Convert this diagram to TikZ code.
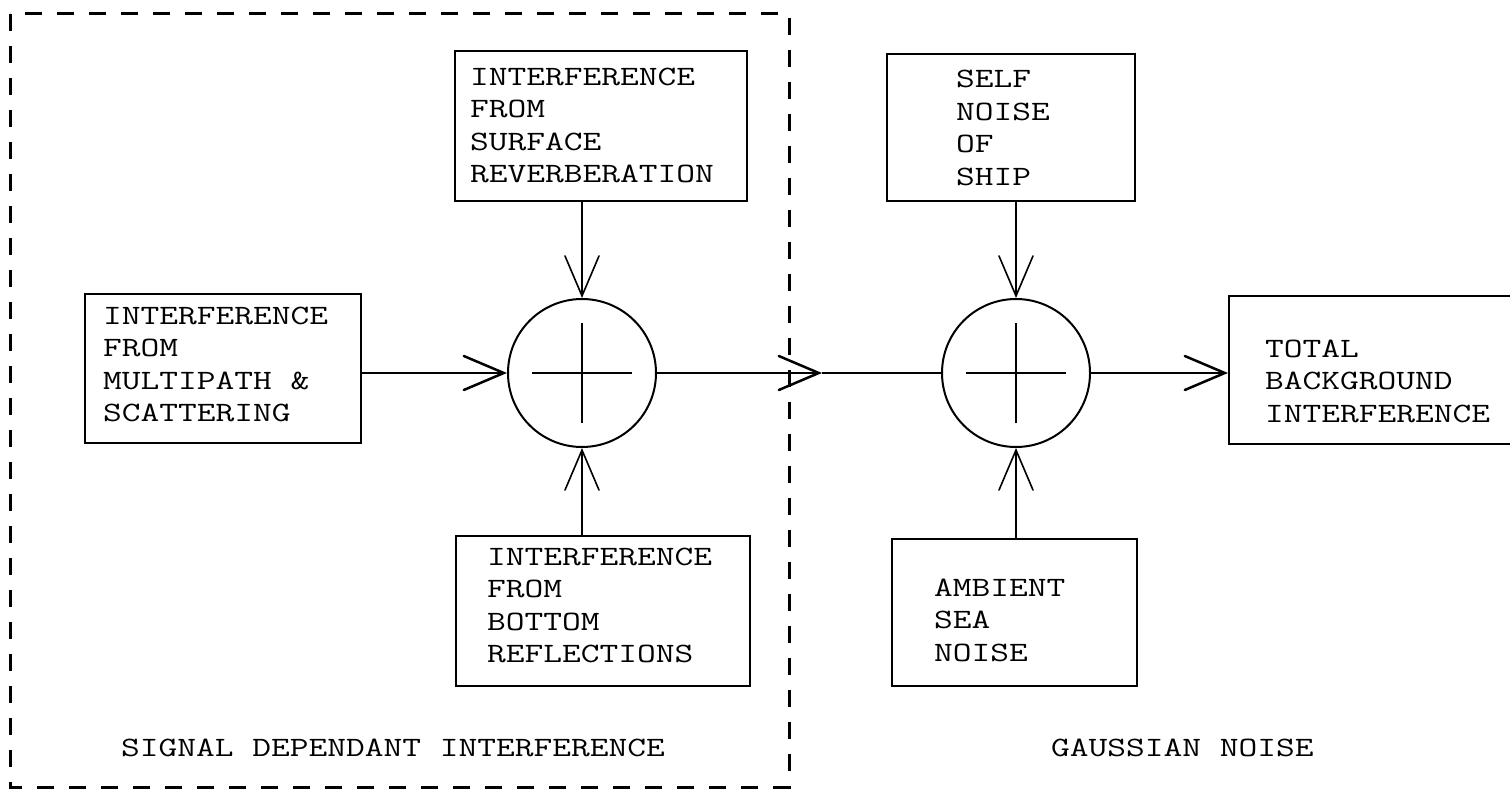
\documentclass[tikz,border=0pt]{standalone}
\usepackage{fontspec}
\setmainfont[FakeStretch=1.3]{Latin Modern Mono}
\usetikzlibrary{arrows.meta}
\newcommand{\lines}[1]{\begin{tabular}[t]{@{}l@{}}#1\end{tabular}}
\begin{document}
\begin{tikzpicture}[x=1pt,y=-1pt,
  box/.style={draw, line width=2.2pt, inner sep=0pt, anchor=north west},
  txt/.style={anchor=base west, inner sep=0pt, font=\fontsize{28}{32.5}\selectfont},
  sum/.style={draw, circle, line width=2pt, minimum size=148pt, inner sep=0pt},
  barb/.tip={Straight Barb[length=40pt,width=34pt,line cap=round]},
  conn/.style={line width=2.5pt, -barb},
  feed/.style={line width=1.6pt, -barb},
  cross/.style={line width=2pt},
  frame/.style={line width=3pt, dash pattern=on 17pt off 15pt}]
\useasboundingbox (0,0) rectangle (1510,792);
\clip (0,0) rectangle (1510,792);

% signal dependant group
\draw[frame] (10,14) rectangle (789,787);

% input boxes
\node[box, minimum width=276pt, minimum height=149pt] (L) at (84,293) {};
\node[box, minimum width=292pt, minimum height=150pt] (t1) at (454,50) {};
\node[box, minimum width=294pt, minimum height=150pt] (b1) at (455,535) {};
\node[box, minimum width=248pt, minimum height=147pt] (t2) at (886,53) {};
\node[box, minimum width=245pt, minimum height=147pt] (b2) at (891,538) {};
\node[box, minimum width=320pt, minimum height=148pt] (out) at (1228,295) {};

\node[txt] (Lt) at (103,324) {\lines{INTERFERENCE\\FROM\\MULTIPATH \&\\SCATTERING}};
\node[txt] (t1t) at (470,85) {\lines{INTERFERENCE\\FROM\\SURFACE\\REVERBERATION}};
\node[txt] (b1t) at (487,565) {\lines{INTERFERENCE\\FROM\\BOTTOM\\REFLECTIONS}};
\node[txt] (t2t) at (956,88) {\lines{SELF\\NOISE\\OF\\SHIP}};
\node[txt] (b2t) at (934,596) {\lines{AMBIENT\\SEA\\NOISE}};
\node[txt] (outt) at (1265,357) {\lines{TOTAL\\BACKGROUND\\INTERFERENCE}};

% group labels
\node[txt] (sdi) at (121,756) {SIGNAL DEPENDANT INTERFERENCE};
\node[txt] (gn) at (1051,756) {GAUSSIAN NOISE};

% summing junctions
\node[sum] (c1) at (582,373) {};
\node[sum] (c2) at (1016,373) {};
\foreach \c in {c1,c2}{
  \draw[cross] ([xshift=-50pt]\c.center) -- ([xshift=50pt]\c.center);
  \draw[line width=1.5pt] ([yshift=-50pt]\c.center) -- ([yshift=50pt]\c.center);
}

\coordinate (mid) at (822,373);

% connectors
\draw[conn] (L.east |- c1.west) -- (c1.west);
\draw[conn] (c1.east) -- (mid);
\draw[line width=2.5pt] (mid) -- (c2.west);
\draw[conn] (c2.east) -- (out.west |- c2.east);
\draw[feed] (c1 |- t1.south) -- (c1.north);
\draw[feed] (c1 |- b1.north) -- (c1.south);
\draw[feed] (c2 |- t2.south) -- (c2.north);
\draw[feed] (c2 |- b2.north) -- (c2.south);
\end{tikzpicture}
\end{document}
